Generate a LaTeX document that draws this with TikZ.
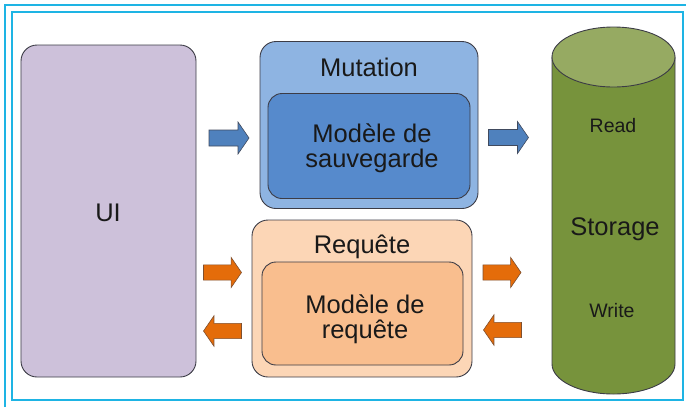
\documentclass[tikz,border=0pt]{standalone}
\usepackage{fontspec}
\setmainfont{Liberation Sans}
\definecolor{framecyan}{RGB}{30,180,228}
\definecolor{uifill}{RGB}{205,193,218}
\definecolor{mutout}{RGB}{142,180,226}
\definecolor{mutin}{RGB}{86,138,204}
\definecolor{reqout}{RGB}{252,214,182}
\definecolor{reqin}{RGB}{249,190,142}
\definecolor{dbbody}{RGB}{119,147,60}
\definecolor{dbtop}{RGB}{150,170,98}
\definecolor{arrblue}{RGB}{79,129,189}
\definecolor{arrorange}{RGB}{228,108,10}
\definecolor{edge}{RGB}{60,60,70}
\definecolor{ink}{RGB}{25,25,25}
\tikzset{
  box/.style={draw=edge, line width=0.9bp, rounded corners=16bp, inner sep=0pt},
  bigtxt/.style={font=\fontsize{25.5bp}{26bp}\selectfont, text=ink, anchor=base, inner sep=0pt},
  smalltxt/.style={font=\fontsize{19.5bp}{20bp}\selectfont, text=ink, anchor=base, inner sep=0pt},
  frameline/.style={draw=framecyan, line width=1.6bp},
  % block arrow pointing right, 40 long, centred on the pic origin
  pics/blockarrow/.style={code={
    \draw[pic actions] (-20,-8) -- (9,-8) -- (9,-16) -- (20,0) -- (9,16) -- (9,8) -- (-20,8) -- cycle;
  }},
  bluearrow/.style={fill=arrblue, draw=edge!80!arrblue, line width=0.6bp},
  orangearrow/.style={fill=arrorange, draw=edge!60!arrorange, line width=0.6bp},
}
\begin{document}
\begin{tikzpicture}[x=1bp, y=-1bp]
\useasboundingbox (0,0) rectangle (686,407);

% frames
\draw[frameline] (5,407) -- (5,5) -- (686,5);
\draw[frameline] (12,12) rectangle (683,400);

% UI panel
\node[box, fill=uifill, minimum width=175bp, minimum height=332bp] (ui) at (108.5,211) {};
\node[bigtxt] (uitxt) at (108,221) {UI};

% Mutation group
\node[box, fill=mutout, minimum width=218bp, minimum height=167bp] (mut) at (369,125) {};
\node[box, fill=mutin, rounded corners=14bp, minimum width=202bp, minimum height=105bp] (mutmodel) at (369,146) {};
\node[bigtxt] (muttxt) at (369,76) {Mutation};
\node[bigtxt] (mutl1) at (372,142) {Modèle de};
\node[bigtxt] (mutl2) at (372,167.5) {sauvegarde};

% Requête group
\node[box, fill=reqout, minimum width=220bp, minimum height=157bp] (req) at (362,298.5) {};
\node[box, fill=reqin, rounded corners=14bp, minimum width=201bp, minimum height=103bp] (reqmodel) at (362.5,313.5) {};
\node[bigtxt] (reqtxt) at (362,253.5) {Requête};
\node[bigtxt] (reql1) at (365,313) {Modèle de};
\node[bigtxt] (reql2) at (365,338.5) {requête};

% Storage cylinder
\path[fill=dbbody, draw=edge, line width=0.9bp]
  (552,57) -- (552,364) arc[start angle=180, end angle=0, x radius=61.5, y radius=30]
  -- (675,57) -- cycle;
\draw[fill=dbtop, draw=edge, line width=0.9bp] (613.5,57) ellipse [x radius=61.5, y radius=30];
\node[smalltxt] (readtxt) at (613,132.5) {Read};
\node[bigtxt] (stortxt) at (615,235.5) {Storage};
\node[smalltxt] (writetxt) at (612,317) {Write};

% block arrows
\pic[bluearrow] (a1) at (229,138) {blockarrow};
\pic[bluearrow] (a2) at (508.5,137.5) {blockarrow};
\pic[orangearrow, scale=0.95] (a3) at (222.5,272.5) {blockarrow};
\pic[orangearrow, scale=0.95, xscale=-1] (a4) at (222.5,331) {blockarrow};
\pic[orangearrow, scale=0.95] (a5) at (502,272.5) {blockarrow};
\pic[orangearrow, scale=0.95, xscale=-1] (a6) at (502.5,330) {blockarrow};
\end{tikzpicture}
\end{document}
